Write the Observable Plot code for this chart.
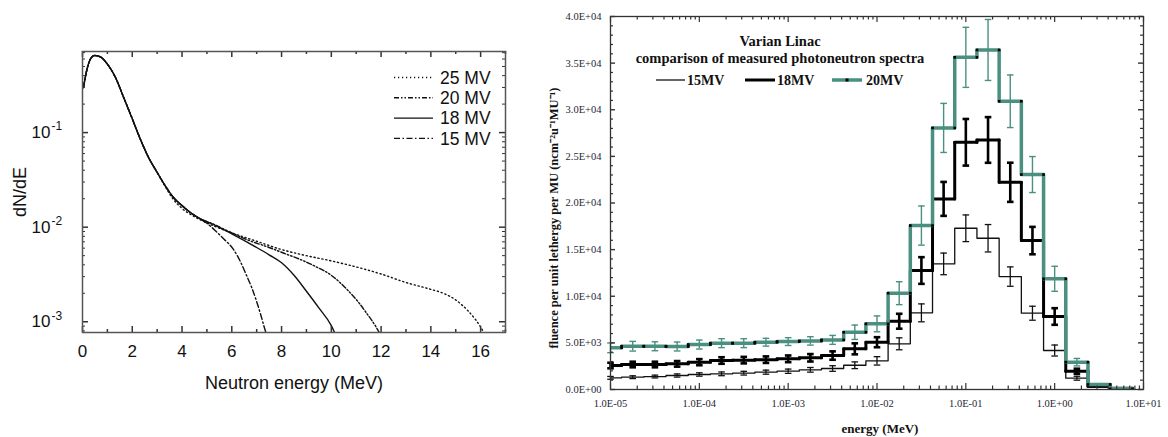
<!DOCTYPE html>
<html><head><meta charset="utf-8">
<script src="https://cdn.jsdelivr.net/npm/d3@7"></script>
<script src="https://cdn.jsdelivr.net/npm/@observablehq/plot@0.6"></script>
<style>
body{margin:0;background:#fff;}
#wrap{position:relative;width:1168px;height:437px;overflow:hidden;background:#fff;}
#left{position:absolute;left:0;top:0;}
#right{position:absolute;left:520px;top:0;}
#overlay{position:absolute;left:0;top:0;pointer-events:none;}
</style></head><body>
<div id="wrap"><div id="left"></div><div id="right"></div></div>
<script>
// ================= LEFT PANEL DATA (dN/dE vs neutron energy) =================
const lowE = [0.04, 0.2, 0.32, 0.48, 0.72, 1.0, 1.32, 1.65, 2.0, 2.32, 2.65, 3.0];
const lowN = [0.30, 0.49, 0.60, 0.653, 0.63, 0.53, 0.385, 0.237, 0.14, 0.0858, 0.0549, 0.038];
const midE = [3.32, 3.65, 4.0, 4.32, 4.72];
const midN = [0.0275, 0.0207, 0.0169, 0.0144, 0.0123];
const tail15E = [5.0, 5.39, 5.7, 6.05, 6.35, 6.59, 6.8, 6.99, 7.15, 7.32, 7.42];
const tail15N = [0.0110, 0.0089, 0.0074, 0.0059, 0.0043, 0.0031, 0.0023, 0.00166, 0.00122, 0.00085, 0.00070];
const tail18E = [5.25, 6.0, 7.0, 7.5, 8.0, 8.5, 9.0, 9.5, 10.0, 10.15];
const tail18N = [0.0107, 0.0085, 0.0061, 0.0051, 0.0042, 0.0031, 0.0021, 0.0014, 0.00091, 0.00075];
const tail20E = [5.25, 6.0, 6.6, 7.5, 8.1, 8.8, 9.4, 10.0, 10.7, 11.1, 11.4, 11.8, 11.95];
const tail20N = [0.0108, 0.0087, 0.0074, 0.0061, 0.0053, 0.0045, 0.0038, 0.0031, 0.0021, 0.0016, 0.00125, 0.00088, 0.00075];
const tail25E = [3.32, 3.65, 4.0, 4.5, 5.0, 6.0, 7.0, 8.0, 9.0, 10.0, 11.0, 12.0, 13.0, 14.0, 14.5, 15.0, 15.5, 15.8, 16.0, 16.15];
const tail25N = [0.027, 0.0197, 0.0158, 0.0129, 0.0111, 0.0087, 0.0071, 0.0058, 0.0050, 0.0044, 0.0038, 0.0032, 0.0026, 0.0022, 0.0020, 0.0017, 0.0013, 0.00105, 0.00088, 0.00075];
const leftNames = ["25 MV", "20 MV", "18 MV", "15 MV"];
const leftXTicks = [0, 2, 4, 6, 8, 10, 12, 14, 16];
const leftXMinor = [1, 3, 5, 7, 9, 11, 13, 15, 17];
const leftYTicks = [1e-1, 1e-2, 1e-3];

// ================= RIGHT PANEL DATA (Varian linac, lethargy spectra) =================
const binExp = [-5, -4.75, -4.5, -4.25, -4, -3.75, -3.5, -3.25, -3, -2.75, -2.5, -2.25, -2, -1.75, -1.5, -1.25, -1, -0.75, -0.5, -0.25, 0, 0.25, 0.5, 0.75];
const mv15    = [1250, 1320, 1390, 1500, 1610, 1680, 1750, 1860, 1960, 2110, 2250, 2600, 3070, 4900, 8220, 13470, 17290, 16220, 12110, 8180, 4180, 1210, 250, 140];
const mv15err = [150, 150, 150, 170, 180, 200, 200, 220, 230, 250, 300, 360, 450, 640, 960, 1160, 1430, 1470, 1040, 750, 590, 210, 0, 0];
const mv18    = [2570, 2680, 2680, 2750, 2930, 3110, 3150, 3200, 3290, 3400, 3640, 4360, 5070, 7320, 12760, 20440, 26510, 26760, 22220, 15970, 7830, 1960, 360, 140];
const mv18err = [300, 300, 300, 300, 330, 350, 350, 350, 360, 400, 450, 590, 540, 800, 1430, 1820, 2500, 2450, 2100, 1470, 890, 270, 0, 0];
const mv20    = [4470, 4640, 4640, 4610, 4820, 4970, 4970, 5070, 5140, 5210, 5320, 6140, 7040, 10330, 17580, 28050, 35620, 36410, 30910, 23050, 11870, 2930, 540, 70];
const mv20err = [520, 520, 480, 480, 480, 480, 480, 420, 420, 450, 480, 770, 850, 1230, 2100, 2630, 3220, 3270, 2820, 1930, 1340, 400, 0, 0];
const rightNames = ["15MV", "18MV", "20MV"];
const rightXTicks = [1e-5, 1e-4, 1e-3, 1e-2, 1e-1, 1e0, 1e1];
const rightYTicks = [0, 5000, 10000, 15000, 20000, 25000, 30000, 35000, 40000];
const titleLines = ["Varian Linac", "comparison of measured photoneutron spectra"];

// ================= LEFT PANEL =================
const LW = 520, LH = 437, LM = {l: 82, r: 15, t: 51, b: 105};
const LiW = LW - LM.l - LM.r, LiH = LH - LM.t - LM.b;
const pts = (E, N) => E.map((e, i) => ({E: e, N: N[i]}));
const leftSeries = {
  "25 MV": [...pts(lowE, lowN), ...pts(tail25E, tail25N)],
  "20 MV": [...pts(lowE, lowN), ...pts(midE, midN), ...pts(tail20E, tail20N)],
  "18 MV": [...pts(lowE, lowN), ...pts(midE, midN), ...pts(tail18E, tail18N)],
  "15 MV": [...pts(lowE, lowN), ...pts(midE, midN), ...pts(tail15E, tail15N)]
};
const leftDash = {"25 MV": "1.2,2.8", "20 MV": "5,2,1.5,2,1.5,2", "18 MV": null, "15 MV": "6,2.5,1.5,2.5"};
const leftYMinor = [];
for (const d of [1e-4, 1e-3, 1e-2, 1e-1]) for (let m = 2; m <= 9; m++) { const v = m * d; if (v > 7.7e-4 && v < 0.72) leftYMinor.push(v); }
const tickCol = "#333";

const leftPlot = Plot.plot({
  width: LW, height: LH, marginLeft: LM.l, marginRight: LM.r, marginTop: LM.t, marginBottom: LM.b,
  style: {fontFamily: "'Liberation Sans', Arial, sans-serif", fontSize: "17px", color: "#111", background: "transparent"},
  x: {domain: [0, 17]},
  y: {type: "log", domain: [7.7e-4, 0.72]},
  marks: [
    ...leftNames.map(n => Plot.line(leftSeries[n], {x: "E", y: "N", stroke: "#111", strokeWidth: 1.4, strokeDasharray: leftDash[n], curve: "monotone-x", clip: true})),
    Plot.tickX(leftXTicks, {x: d => d, insetTop: LiH - 6, stroke: tickCol, strokeWidth: 1.5}),
    Plot.tickX(leftXTicks, {x: d => d, insetBottom: LiH - 6, stroke: tickCol, strokeWidth: 1.5}),
    Plot.tickX(leftXMinor, {x: d => d, insetTop: LiH - 3, stroke: tickCol, strokeWidth: 1.5}),
    Plot.tickX(leftXMinor, {x: d => d, insetBottom: LiH - 3, stroke: tickCol, strokeWidth: 1.5}),
    Plot.tickY(leftYTicks, {y: d => d, insetRight: LiW - 6, stroke: tickCol, strokeWidth: 1.5}),
    Plot.tickY(leftYTicks, {y: d => d, insetLeft: LiW - 6, stroke: tickCol, strokeWidth: 1.5}),
    Plot.tickY(leftYMinor, {y: d => d, insetRight: LiW - 3, stroke: tickCol, strokeWidth: 1}),
    Plot.tickY(leftYMinor, {y: d => d, insetLeft: LiW - 3, stroke: tickCol, strokeWidth: 1}),
    Plot.frame({stroke: "#555", strokeWidth: 1.5}),
    Plot.axisX({ticks: leftXTicks, tickSize: 0, tickPadding: 12, tickFormat: d => String(d), label: null, fontSize: 17}),
    Plot.axisY({ticks: leftYTicks, tickSize: 0, tickPadding: 32, tickFormat: () => "10", label: null, fontSize: 17}),
    Plot.text(leftYTicks, {y: d => d, text: d => String(Math.round(Math.log10(d))), frameAnchor: "left", dx: -31, dy: -6, textAnchor: "start", fontSize: 12}),
    Plot.text(["Neutron energy (MeV)"], {text: d => d, frameAnchor: "bottom", dy: 51, textAnchor: "middle", lineAnchor: "middle", fontSize: 18}),
    Plot.text(["dN/dE"], {text: d => d, frameAnchor: "left", dx: -62, rotate: -90, textAnchor: "middle", lineAnchor: "middle", fontSize: 18})
  ]
});
document.getElementById("left").appendChild(leftPlot);

// ================= RIGHT PANEL =================
const RW = 648, RH = 437, RM = {l: 90, r: 25, t: 16, b: 48};
const RiW = RW - RM.l - RM.r, RiH = RH - RM.t - RM.b;
const half = Math.pow(10, 1 / 8);
const centers = binExp.map(e => Math.pow(10, e));
const histSpec = [
  {name: "15MV", vals: mv15, errs: mv15err, color: "#111", lw: 1.3, ew: 1.3, markers: false},
  {name: "18MV", vals: mv18, errs: mv18err, color: "#000", lw: 3, ew: 2.6, markers: true},
  {name: "20MV", vals: mv20, errs: mv20err, color: "#4a8f80", lw: 3.5, ew: 1.4, markers: true}
];
const capSym = {draw(ctx, size) { const r = Math.sqrt(size / Math.PI); ctx.moveTo(-r, 0); ctx.lineTo(r, 0); }};
const fmtE = v => {
  if (v === 0) return "0.0E+00";
  const e = Math.floor(Math.log10(v) + 1e-9);
  const m = v / Math.pow(10, e);
  return m.toFixed(1) + "E" + (e < 0 ? "-" : "+") + String(Math.abs(e)).padStart(2, "0");
};
const rightXMinor = [];
for (let d = -5; d <= 0; d++) for (let m = 2; m <= 9; m++) rightXMinor.push(m * Math.pow(10, d));
const rightYMinor = d3.range(0, 40001, 1000).filter(v => v % 5000 !== 0);

const histMarks = [];
for (const s of histSpec) {
  const step = centers.map((c, i) => ({x: c / half, y: s.vals[i]}));
  step.push({x: centers[centers.length - 1] * half, y: s.vals[s.vals.length - 1]});
  histMarks.push(Plot.line(step, {x: "x", y: "y", curve: "step-after", stroke: s.color, strokeWidth: s.lw, clip: true}));
  const eb = centers.map((c, i) => ({x: c, v: s.vals[i], e: s.errs[i]})).filter(d => d.e > 0);
  histMarks.push(Plot.ruleX(eb, {x: "x", y1: d => d.v - d.e, y2: d => d.v + d.e, stroke: s.color, strokeWidth: s.ew}));
  histMarks.push(Plot.dot(eb, {x: "x", y: d => d.v - d.e, symbol: capSym, r: 3.3, fill: "none", stroke: s.color, strokeWidth: s.ew}));
  histMarks.push(Plot.dot(eb, {x: "x", y: d => d.v + d.e, symbol: capSym, r: 3.3, fill: "none", stroke: s.color, strokeWidth: s.ew}));
  if (s.markers) {
    const mk = [];
    centers.forEach((c, i) => { mk.push({x: c / half, y: s.vals[i]}); mk.push({x: c * half, y: s.vals[i]}); });
    histMarks.push(Plot.dot(mk, {x: "x", y: "y", symbol: "square", r: 1.5, fill: "#000", stroke: "none", clip: true}));
  }
}

const serif = "'Liberation Serif', 'Times New Roman', serif";
const rightPlot = Plot.plot({
  width: RW, height: RH, marginLeft: RM.l, marginRight: RM.r, marginTop: RM.t, marginBottom: RM.b,
  style: {fontFamily: serif, fontSize: "10.5px", color: "#262636", background: "transparent"},
  x: {type: "log", domain: [1e-5, 1e1]},
  y: {domain: [0, 40000]},
  marks: [
    ...histMarks,
    Plot.tickX(rightXTicks, {x: d => d, insetTop: RiH - 6, stroke: tickCol, strokeWidth: 1.2}),
    Plot.tickX(rightXTicks, {x: d => d, insetBottom: RiH - 6, stroke: tickCol, strokeWidth: 1.2}),
    Plot.tickX(rightXMinor, {x: d => d, insetTop: RiH - 3.5, stroke: tickCol, strokeWidth: 1.2}),
    Plot.tickX(rightXMinor, {x: d => d, insetBottom: RiH - 3.5, stroke: tickCol, strokeWidth: 1.2}),
    Plot.tickY(rightYTicks, {y: d => d, insetRight: RiW - 5, stroke: tickCol, strokeWidth: 1.4}),
    Plot.tickY(rightYTicks, {y: d => d, insetLeft: RiW - 5, stroke: tickCol, strokeWidth: 1.4}),
    Plot.tickY(rightYMinor, {y: d => d, insetRight: RiW - 3, stroke: tickCol, strokeWidth: 1.2}),
    Plot.tickY(rightYMinor, {y: d => d, insetLeft: RiW - 3, stroke: tickCol, strokeWidth: 1.2}),
    Plot.frame({stroke: "#333", strokeWidth: 1.3}),
    Plot.axisX({ticks: rightXTicks, tickSize: 0, tickPadding: 10, tickFormat: fmtE, label: null, fontSize: 10.5}),
    Plot.axisY({ticks: rightYTicks, tickSize: 0, tickPadding: 9, tickFormat: fmtE, label: null, fontSize: 10.5}),
    Plot.text(["energy (MeV)"], {text: d => d, frameAnchor: "bottom", dx: 3, dy: 39, textAnchor: "middle", lineAnchor: "middle", fontSize: 13, fontWeight: "bold", fill: "#111"}),
    Plot.text(["fluence per unit lethergy per MU (ncm⁻²u⁻¹MU⁻¹)"], {text: d => d, frameAnchor: "left", dx: -57, dy: 15, rotate: -90, textAnchor: "middle", lineAnchor: "middle", fontSize: 12.5, fontWeight: "bold", fill: "#111"})
  ]
});
document.getElementById("right").appendChild(rightPlot);

// ================= LEGENDS / TITLE (overlay) =================
const ov = d3.select("#wrap").append("svg").attr("id", "overlay").attr("width", 1168).attr("height", 437);
// left legend
const lg = ov.append("g").attr("font-family", "'Liberation Sans', Arial, sans-serif").attr("font-size", 17.5).attr("fill", "#111");
leftNames.forEach((n, i) => {
  const cy = 77.5 + i * 20.3;
  lg.append("line").attr("x1", 394).attr("x2", 433).attr("y1", cy).attr("y2", cy)
    .attr("stroke", "#111").attr("stroke-width", 1.4).attr("stroke-dasharray", leftDash[n] || null);
  lg.append("text").attr("x", 440).attr("y", cy + 6.3).text(n);
});
// right title + legend
const rg = ov.append("g").attr("font-family", serif).attr("font-weight", "bold").attr("fill", "#111");
rg.append("text").attr("x", 780).attr("y", 45.5).attr("text-anchor", "middle").attr("font-size", 14.5).text(titleLines[0]);
rg.append("text").attr("x", 780).attr("y", 62.5).attr("text-anchor", "middle").attr("font-size", 14.5).text(titleLines[1]);
const legX = [[656, 685, 687], [745, 775, 777], [832, 862, 866]];
histSpec.forEach((s, i) => {
  const [a, b, t] = legX[i];
  rg.append("line").attr("x1", a).attr("x2", b).attr("y1", 80).attr("y2", 80).attr("stroke", s.color).attr("stroke-width", s.lw);
  if (s.markers && s.name === "20MV") rg.append("rect").attr("x", (a + b) / 2 - 1.5).attr("y", 78.5).attr("width", 3).attr("height", 3).attr("fill", "#000");
  rg.append("text").attr("x", t).attr("y", 85).attr("font-size", 14).text(rightNames[i]);
});
</script>
</body></html>
